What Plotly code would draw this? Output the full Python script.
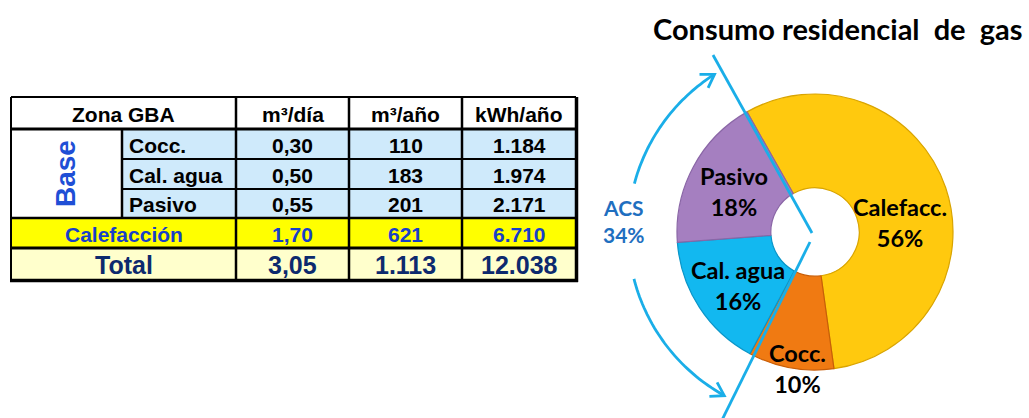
import math
import plotly.graph_objects as go

W, H = 1029, 418

# ---- table data -------------------------------------------------------------
header_labels = ["Zona GBA", "m³/día", "m³/año", "kWh/año"]
base_group = "Base"
base_rows = ["Cocc.", "Cal. agua", "Pasivo"]
m3_dia = [0.30, 0.50, 0.55]
m3_anio = [110, 183, 201]
kwh_anio = [1184, 1974, 2171]
calef_label = "Calefacción"
calef_values = [1.70, 621, 6710]
total_label = "Total"
total_values = [3.05, 1113, 12038]

# ---- donut data -------------------------------------------------------------
categories = ["Calefacc.", "Cocc.", "Cal. agua", "Pasivo"]
shares = [56, 10, 16, 18]
slice_colors = ["#FFC90E", "#F07A12", "#12B8F0", "#A57FC0"]
slice_edges = ["#D9A400", "#C85E08", "#0A95C8", "#8A66A6"]
acs_label = "ACS"
acs_members = ["Cal. agua", "Pasivo"]
acs_share = sum(s for c, s in zip(categories, shares) if c in acs_members)

title_text = "Consumo residencial  de  gas"


def fmt_dec(v):
    return f"{v:.2f}".replace(".", ",")


def fmt_int(v):
    return f"{int(round(v)):,}".replace(",", ".")


fmts = [fmt_dec, fmt_int, fmt_int]

# ---- layout helpers (pixel coordinates on a hidden overlay axis) -------------
ARIAL = "Liberation Sans, Arial, sans-serif"
SANS = "Lato, Calibri, sans-serif"
BLUE_LINE = "#1AAEE8"

col_x = [11, 122, 236, 349, 462, 576]
row_y = [97, 129, 159, 189, 218, 248, 280]

shapes = []
annots = []


def rect(x0, y0, x1, y1, fill):
    shapes.append(dict(type="rect", xref="x", yref="y", x0=x0, y0=y0, x1=x1, y1=y1,
                       fillcolor=fill, line=dict(width=0), layer="below"))


def hline(x0, x1, y, w=2.5):
    shapes.append(dict(type="line", xref="x", yref="y", x0=x0, x1=x1, y0=y, y1=y,
                       line=dict(color="black", width=w), layer="below"))


def vline(x, y0, y1, w=2.5):
    shapes.append(dict(type="line", xref="x", yref="y", x0=x, x1=x, y0=y0, y1=y1,
                       line=dict(color="black", width=w), layer="below"))


def text(x, y, s, size=20, color="black", anchor="center", family=ARIAL, angle=0):
    annots.append(dict(x=x, y=y, xref="x", yref="y", text=s, showarrow=False,
                       xanchor=anchor, yanchor="middle", textangle=angle,
                       font=dict(family=family, size=size, color=color)))


# cell fills
rect(col_x[0], row_y[0], col_x[5], row_y[1], "white")
rect(col_x[0], row_y[1], col_x[1], row_y[4], "white")
rect(col_x[1], row_y[1], col_x[5], row_y[4], "#CFEAFB")
rect(col_x[0], row_y[4], col_x[5], row_y[5], "#FFFF00")
rect(col_x[0], row_y[5], col_x[5], row_y[6], "#FFFFCC")

# grid lines
hline(col_x[0], col_x[5], row_y[0], 2)
hline(col_x[0], col_x[5], row_y[1], 3)
hline(col_x[1], col_x[5], row_y[2], 2)
hline(col_x[1], col_x[5], row_y[3], 2)
hline(col_x[0], col_x[5], row_y[4], 2.5)
hline(col_x[0], col_x[5], row_y[5], 3)
hline(col_x[0] - 1, col_x[5] + 2, row_y[6] + 0.5, 3.5)
vline(col_x[0], row_y[0], row_y[6], 2)
vline(col_x[1], row_y[1], row_y[4], 2.5)
for cx in col_x[2:5]:
    vline(cx, row_y[0], row_y[6], 2.5)
vline(col_x[5] + 0.5, row_y[0], row_y[6] + 2, 3.5)

# header texts
mid = lambda a, b: (a + b) / 2
text(mid(col_x[0], col_x[2]), mid(row_y[0], row_y[1]) + 1, f"<b>{header_labels[0]}</b>", 21)
for j in range(3):
    text(mid(col_x[j + 2], col_x[j + 3]), mid(row_y[0], row_y[1]) + 1,
         f"<b>{header_labels[j + 1]}</b>", 21)

# base rows
text(mid(col_x[0], col_x[1]) - 1, mid(row_y[1], row_y[4]), f"<b>{base_group}</b>",
     28, "#1F4FD6", angle=-90)
for i, lab in enumerate(base_rows):
    yc = mid(row_y[i + 1], row_y[i + 2]) + 1
    text(col_x[1] + 5, yc, f"<b>{lab}</b>", 21, anchor="left")
    for j, vals in enumerate([m3_dia, m3_anio, kwh_anio]):
        text(mid(col_x[j + 2], col_x[j + 3]), yc, f"<b>{fmts[j](vals[i])}</b>", 21)

# heating row
yc = mid(row_y[4], row_y[5]) + 1
text(mid(col_x[0], col_x[2]), yc, f"<b>{calef_label}</b>", 21, "#1840C8")
for j, v in enumerate(calef_values):
    text(mid(col_x[j + 2], col_x[j + 3]), yc, f"<b>{fmts[j](v)}</b>", 21, "#1840C8")

# total row
yc = mid(row_y[5], row_y[6]) + 1
text(mid(col_x[0], col_x[2]), yc, f"<b>{total_label}</b>", 25, "#0D2A6E")
for j, v in enumerate(total_values):
    text(mid(col_x[j + 2], col_x[j + 3]), yc, f"<b>{fmts[j](v)}</b>", 25, "#0D2A6E")

# ---- donut ------------------------------------------------------------------
cx, cy, R = 815, 232, 138
start_deg = -29.5
fig = go.Figure()
fig.add_trace(go.Pie(
    values=shares, labels=categories, hole=0.32, sort=False,
    direction="clockwise", rotation=start_deg,
    marker=dict(colors=slice_colors, line=dict(color=slice_edges, width=1.2)),
    textinfo="none", textposition="none", showlegend=False,
    hoverinfo="label+percent",
    domain=dict(x=[(cx - R) / W, (cx + R) / W], y=[1 - (cy + R) / H, 1 - (cy - R) / H]),
))

# slice labels (centre of each two-line label, in pixels)
label_pos = {"Calefacc.": (900, 222), "Cocc.": (797, 368),
             "Cal. agua": (738, 285), "Pasivo": (734, 191)}
for c, s in zip(categories, shares):
    lx, ly = label_pos[c]
    text(lx, ly, f"<b>{c}<br>{s}%</b>", 23.5, "black", family=SANS)

# ACS bracket: two split lines and curved arrows around the donut
shapes.append(dict(type="line", xref="x", yref="y", x0=713, y0=55, x1=812, y1=233,
                   line=dict(color=BLUE_LINE, width=2.8), layer="above"))
shapes.append(dict(type="line", xref="x", yref="y", x0=810, y0=242, x1=722, y1=420,
                   line=dict(color=BLUE_LINE, width=2.8), layer="above"))

RA = 187


def arc_path(a0, a1, n=40):
    pts = []
    for k in range(n + 1):
        a = math.radians(a0 + (a1 - a0) * k / n)
        pts.append((cx + RA * math.cos(a), cy - RA * math.sin(a)))
    return "M" + " L".join(f"{x:.1f},{y:.1f}" for x, y in pts)


HEAD_LEN, HEAD_ANG = 15, math.radians(32)
for a0, a1 in [(165, 122.5), (194.5, 241)]:
    shapes.append(dict(type="path", xref="x", yref="y", path=arc_path(a0, a1),
                       line=dict(color=BLUE_LINE, width=2.8), layer="above"))
    a = math.radians(a1)
    sgn = 1 if a1 > a0 else -1
    # screen-space tangent direction at the arrow tip
    dx, dy = -sgn * math.sin(a), -sgn * math.cos(a)
    tx, ty = cx + RA * math.cos(a), cy - RA * math.sin(a)
    arms = []
    for s in (1, -1):
        ca, sa = math.cos(s * HEAD_ANG), math.sin(s * HEAD_ANG)
        rx, ry = dx * ca - dy * sa, dx * sa + dy * ca
        arms.append((tx - HEAD_LEN * rx, ty - HEAD_LEN * ry))
    head = (f"M{arms[0][0]:.1f},{arms[0][1]:.1f} L{tx:.1f},{ty:.1f} "
            f"L{arms[1][0]:.1f},{arms[1][1]:.1f}")
    shapes.append(dict(type="path", xref="x", yref="y", path=head,
                       line=dict(color=BLUE_LINE, width=2.8), layer="above"))

text(624, 221, f"<b>{acs_label}<br>{acs_share}%</b>", 21, "#1F6FC0", family=SANS)

# title
text(837, 28, f"<b>{title_text}</b>", 29, "black", family=SANS)

fig.update_layout(
    width=W, height=H, margin=dict(l=0, r=0, t=0, b=0),
    paper_bgcolor="white", plot_bgcolor="rgba(0,0,0,0)",
    xaxis=dict(range=[0, W], visible=False, fixedrange=True),
    yaxis=dict(range=[H, 0], visible=False, fixedrange=True),
    shapes=shapes, annotations=annots,
)
fig.write_html("out.html")
